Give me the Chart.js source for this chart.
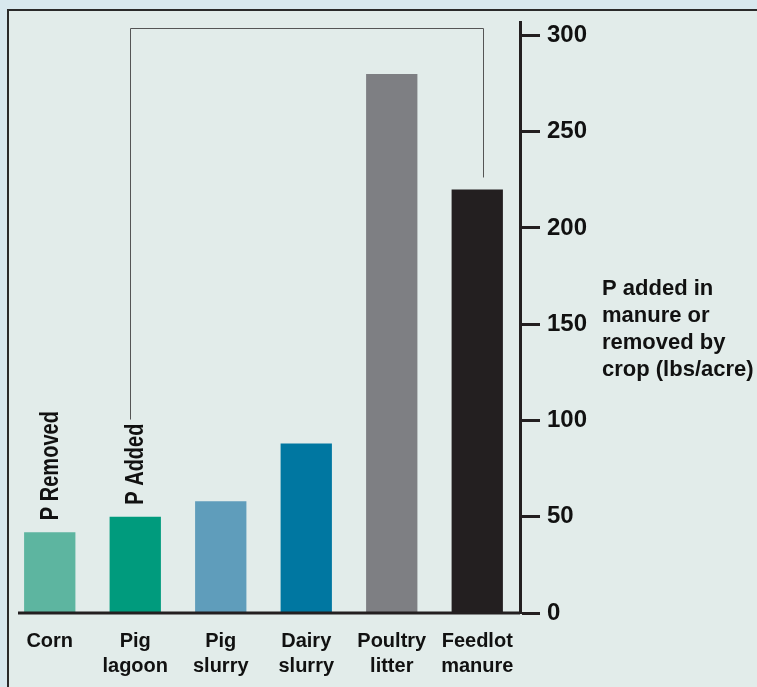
<!DOCTYPE html>
<html>
<head>
<meta charset="utf-8">
<script src="https://cdn.jsdelivr.net/npm/chart.js@4"></script>
<style>
  html, body { margin: 0; padding: 0; }
  body { width: 757px; height: 687px; background: #d8e8ee; position: relative; overflow: hidden; }
  #panel { position: absolute; left: 7px; top: 9px; width: 800px; height: 800px; background: #e2ecea; border: 2px solid #2a2a2a; }
  #chart { position: absolute; left: 0; top: 0; }
</style>
</head>
<body>
<div id="panel"></div>
<canvas id="chart" width="757" height="687"></canvas>
<script>
// categories and values (lbs P per acre)
const categories = [["Corn"], ["Pig", "lagoon"], ["Pig", "slurry"], ["Dairy", "slurry"], ["Poultry", "litter"], ["Feedlot", "manure"]];
const pValues = [42, 50, 58, 88, 280, 220];
const barColors = ["#5db5a0", "#009b7d", "#5f9dbb", "#0077a1", "#7e7f83", "#231f20"];
const yTicks = [0, 50, 100, 150, 200, 250, 300];
const axisTitle = ["P added in", "manure or", "removed by", "crop (lbs/acre)"];
const barNotes = ["P Removed", "P Added"];

const INK = "#231f20";

// baseline, rotated notes, bracket and right-hand title
const extras = {
  id: "extras",
  afterDatasetsDraw(chart) {
    const { ctx, chartArea, scales: { x, y } } = chart;
    const y0 = y.getPixelForValue(0);
    ctx.save();

    // baseline
    ctx.strokeStyle = INK;
    ctx.lineWidth = 3;
    ctx.beginPath();
    ctx.moveTo(18, y0);
    ctx.lineTo(chartArea.right, y0);
    ctx.stroke();

    // rotated notes above the first two bars (condensed)
    ctx.fillStyle = "#111";
    ctx.font = "bold 26px 'Liberation Sans', Arial, sans-serif";
    ctx.textAlign = "left";
    ctx.textBaseline = "middle";
    const squeeze = 0.77;
    let noteTop = 0;
    barNotes.forEach((txt, i) => {
      const cx = x.getPixelForValue(i) + 1;
      const by = y.getPixelForValue(pValues[i]) - 12;
      ctx.save();
      ctx.translate(cx, by);
      ctx.rotate(-Math.PI / 2);
      ctx.scale(squeeze, 1);
      ctx.fillText(txt, 0, 0);
      ctx.restore();
      if (i === 1) noteTop = by - ctx.measureText(txt).width * squeeze - 4;
    });

    // bracket from "P Added" to the feedlot bar
    const xa = x.getPixelForValue(1) - 5;
    const xb = x.getPixelForValue(5) + 6;
    const top = y.getPixelForValue(304);
    const endB = y.getPixelForValue(pValues[5]) - 12;
    ctx.strokeStyle = "#555";
    ctx.lineWidth = 1;
    ctx.beginPath();
    ctx.moveTo(Math.round(xa) + 0.5, noteTop);
    ctx.lineTo(Math.round(xa) + 0.5, Math.round(top) + 0.5);
    ctx.lineTo(Math.round(xb) + 0.5, Math.round(top) + 0.5);
    ctx.lineTo(Math.round(xb) + 0.5, endB);
    ctx.stroke();

    // axis title on the right
    ctx.fillStyle = "#111";
    ctx.font = "bold 22px 'Liberation Sans', Arial, sans-serif";
    ctx.textBaseline = "alphabetic";
    axisTitle.forEach((line, i) => ctx.fillText(line, 602, 295 + i * 27));

    ctx.restore();
  }
};

new Chart(document.getElementById("chart"), {
  type: "bar",
  data: {
    labels: categories,
    datasets: [{
      data: pValues,
      backgroundColor: barColors,
      borderWidth: 0,
      barPercentage: 0.6,
      categoryPercentage: 1.0
    }]
  },
  options: {
    responsive: false,
    devicePixelRatio: 1,
    animation: false,
    layout: { padding: { left: 7, top: 22, right: 0, bottom: 0 } },
    plugins: { legend: { display: false }, tooltip: { enabled: false } },
    scales: {
      x: {
        grid: { display: false, drawTicks: false },
        border: { display: false },
        ticks: {
          padding: 16,
          color: "#111",
          maxRotation: 0,
          autoSkip: false,
          font: { family: "'Liberation Sans', Arial, sans-serif", size: 20, weight: "bold", lineHeight: 1.25 }
        },
        afterFit(scale) { scale.height = 74; }
      },
      y: {
        position: "right",
        min: 0,
        max: 307,
        afterBuildTicks(scale) { scale.ticks = yTicks.map(v => ({ value: v })); },
        grid: { drawOnChartArea: false, tickLength: 20, tickWidth: 3, tickColor: INK },
        border: { color: INK, width: 3 },
        ticks: {
          padding: 7,
          color: "#111",
          font: { family: "'Liberation Sans', Arial, sans-serif", size: 24, weight: "bold" }
        },
        afterFit(scale) { scale.width = 237; }
      }
    }
  },
  plugins: [extras]
});
</script>
</body>
</html>
